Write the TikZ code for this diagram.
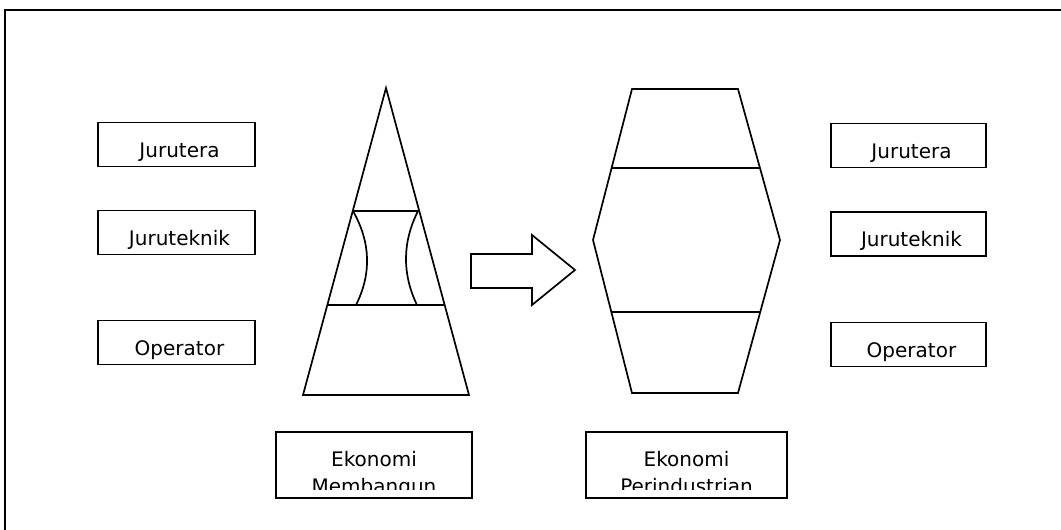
\documentclass[tikz,border=0pt]{standalone}
\usepackage{fontspec}
\newfontfamily\labelfont{DejaVu Sans}
\begin{document}
\begin{tikzpicture}[x=1pt,y=-1pt, line width=1.7pt, line join=miter,
  role/.style={draw, line width=1.5pt, inner sep=0pt, minimum width=157pt,
    minimum height=44pt, font=\labelfont\fontsize{20}{24}\selectfont,
    text height=25pt, text depth=0pt},
  caption/.style={draw, line width=1.5pt, inner sep=0pt, minimum width=196pt,
    minimum height=66pt},
  captext/.style={anchor=base, inner sep=0pt, font=\labelfont\fontsize{20}{24}\selectfont}]
\useasboundingbox (0,0) rectangle (1061,530);
\clip (0,0) rectangle (1061,530);

% page frame (runs off the right and bottom edges)
\draw (5,10) rectangle (1080,560);

% job levels, left column
\node[role] (jl1) at (176.5,144.5) {\hspace*{6pt}Jurutera};
\node[role] (jl2) at (176.5,232.5) {\hspace*{6pt}Juruteknik};
\node[role] (jl3) at (176.5,342.5) {\hspace*{6pt}Operator};

% job levels, right column
\node[role, minimum width=155pt] (jr1) at (908.5,145.5) {\hspace*{6pt}Jurutera};
\node[role, minimum width=155pt] (jr2) at (908.5,234) {\hspace*{6pt}Juruteknik};
\node[role, minimum width=155pt] (jr3) at (908.5,344.5) {\hspace*{6pt}Operator};

% developing economy: pyramid with a narrow middle band
\draw (386,88) -- (469,395) -- (303,395) -- cycle;
\draw (353,211) -- (419,211);
\draw (328,305) -- (445,305);
\draw (353,211) .. controls (370.7,242.3) and (371.7,273.7) .. (356,305);
\draw (418,211) .. controls (402.3,242.3) and (402,273.7) .. (417,305);

% transition arrow
\draw (471,254) -- (532,254) -- (532,235) -- (575,270) -- (532,305)
      -- (532,288) -- (471,288) -- cycle;

% industrial economy: hexagon with a wide middle band
\draw (632,89) -- (738,89) -- (780,240) -- (738,393) -- (632,393)
      -- (593,240) -- cycle;
\draw (612,168) -- (760,168);
\draw (612,312) -- (760,312);

% captions, the second line cut off by the frame of the text box
\node[caption] (ecoA) at (374,465) {};
\node[caption, minimum width=201pt] (ecoB) at (686.5,465) {};
\begin{scope}
  \clip (0,0) rectangle (1061,489);
  \node[captext] (ecoA1) at (ecoA.center |- 0,466) {Ekonomi};
  \node[captext] (ecoA2) at (ecoA.center |- 0,493) {Membangun};
  \node[captext] (ecoB1) at (ecoB.center |- 0,466) {Ekonomi};
  \node[captext] (ecoB2) at (ecoB.center |- 0,493) {Perindustrian};
\end{scope}
\end{tikzpicture}
\end{document}
